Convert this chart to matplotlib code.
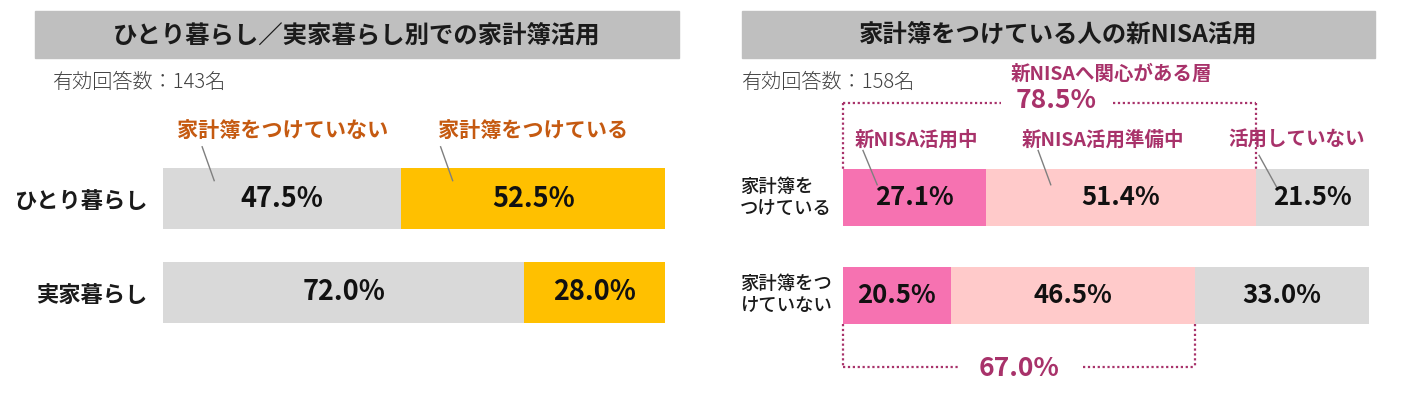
import numpy as np
import matplotlib
matplotlib.use("Agg")
from matplotlib import pyplot as plt
from matplotlib.patches import Rectangle

plt.rcParams['font.family'] = ['Noto Sans CJK JP', 'DejaVu Sans']

# ---- data ----
left_title = 'ひとり暮らし／実家暮らし別での家計簿活用'
left_n = '有効回答数：143名'
left_rows = ['ひとり暮らし', '実家暮らし']
left_series = ['家計簿をつけていない', '家計簿をつけている']
no_kakeibo = [47.5, 72.0]
yes_kakeibo = [52.5, 28.0]

right_title = '家計簿をつけている人の新NISA活用'
right_n = '有効回答数：158名'
right_rows = ['家計簿を\nつけている', '家計簿をつ\nけていない']
right_series = ['新NISA活用中', '新NISA活用準備中', '活用していない']
nisa_using = [27.1, 20.5]
nisa_preparing = [51.4, 46.5]
nisa_not = [21.5, 33.0]
interest_title = '新NISAへ関心がある層'

W, H = 1413, 397
fig = plt.figure(figsize=(W / 100, H / 100), dpi=100)

ORANGE_TXT = '#c55a11'
MAGENTA = '#a8326a'
GRAY = '#d9d9d9'
YELLOW = '#ffc000'
PINK = '#f672b1'
LPINK = '#ffcaca'
LEADER = '#7f7f7f'


def fx(x):
    return x / W


def fy(y):
    return 1 - y / H


# title boxes
for x0, x1, txt in [(35, 679, left_title), (742, 1375, right_title)]:
    fig.patches.append(Rectangle((fx(x0), fy(58)), fx(x1 - x0), 47 / H,
                                 transform=fig.transFigure, color='#bfbfbf', zorder=0))
    fig.text(fx((x0 + x1) / 2), fy(35), txt, ha='center', va='center',
             fontsize=17.6, fontweight='bold', color='#1a1a1a')

fig.text(fx(52), fy(82), left_n, ha='left', va='center', fontsize=14.5,
         fontweight='light', color='#404040')
fig.text(fx(741), fy(82), right_n, ha='left', va='center', fontsize=14.5,
         fontweight='light', color='#404040')

# ---- left chart ----
axL = fig.add_axes([fx(163), fy(339.5), 502 / W, 188 / H])
yL = np.arange(len(left_rows))
lefts = np.zeros(len(left_rows))
left_segments = []
for vals, col in [(no_kakeibo, GRAY), (yes_kakeibo, YELLOW)]:
    axL.barh(yL, vals, left=lefts, height=0.65, color=col, edgecolor='none')
    for i, v in enumerate(vals):
        axL.text(lefts[i] + v / 2, yL[i] + 0.0, f'{v:.1f}%', ha='center', va='center',
                 fontsize=19.5, fontweight='bold', color='#111111')
    left_segments.append(lefts.copy())
    lefts = lefts + np.array(vals)
axL.set_xlim(0, 100)
axL.set_ylim(1.5, -0.5)
axL.set_yticks(yL)
axL.set_yticklabels(left_rows, fontsize=16, fontweight='bold', color='#1a1a1a')
axL.tick_params(axis='y', length=0, pad=11.5)
axL.set_xticks([])
for s in axL.spines.values():
    s.set_visible(False)
axL.patch.set_alpha(0)

# series labels above first row with leader lines
for k, (name, vals) in enumerate(zip(left_series, [no_kakeibo, yes_kakeibo])):
    start = left_segments[k][0]
    axL.text(start + vals[0] / 2, -0.72, name, ha='center', va='center', fontsize=15.2,
             fontweight='bold', color=ORANGE_TXT, clip_on=False)
    axL.plot([start + 7.8, start + 10.2], [-0.55, -0.19], color=LEADER, lw=1, clip_on=False)

# ---- right chart ----
axR = fig.add_axes([fx(843), fy(344.5), 526 / W, 196 / H])
yR = np.arange(len(right_rows))
lefts = np.zeros(len(right_rows))
right_segments = []
for vals, col in [(nisa_using, PINK), (nisa_preparing, LPINK), (nisa_not, GRAY)]:
    axR.barh(yR, vals, left=lefts, height=0.58, color=col, edgecolor='none')
    for i, v in enumerate(vals):
        axR.text(lefts[i] + v / 2, yR[i] + 0.0, f'{v:.1f}%', ha='center', va='center',
                 fontsize=18.5, fontweight='bold', color='#111111')
    right_segments.append(lefts.copy())
    lefts = lefts + np.array(vals)
axR.set_xlim(0, 100)
axR.set_ylim(1.5, -0.5)
axR.set_yticks([])
axR.set_xticks([])
for s in axR.spines.values():
    s.set_visible(False)
axR.patch.set_alpha(0)
for i, lab in enumerate(right_rows):
    fig.text(fx(740), fy(198 if i == 0 else 295), lab, ha='left', va='center',
             fontsize=13.2, fontweight='medium', color='#1a1a1a', linespacing=1.25)

# series labels
label_x = [13.9, 49.4, 86.3]
leader_off = [(3.8, 6.5), (10.0, 12.4), (0.6, 4.0)]
leader_y = [(-0.48, -0.13), (-0.48, -0.13), (-0.43, -0.10)]
for k, name in enumerate(right_series):
    start = right_segments[k][0]
    axR.text(label_x[k], -0.59, name, ha='center', va='center', fontsize=14,
             fontweight='bold', color=MAGENTA, clip_on=False)
    axR.plot([start + leader_off[k][0], start + leader_off[k][1]], leader_y[k],
             color=LEADER, lw=1, clip_on=False)

# brackets for interest group (using + preparing)
interest = [a + b for a, b in zip(nisa_using, nisa_preparing)]
dot = dict(color=MAGENTA, lw=1.6, ls=(0, (1, 1.2)), clip_on=False)

top_total = interest[0]
yb = -0.964
axR.plot([0, 0], [yb, -0.29], **dot)
axR.plot([top_total, top_total], [yb, -0.29], **dot)
axR.plot([0, 30.0], [yb, yb], **dot)
axR.plot([51.3, top_total], [yb, yb], **dot)
axR.text(top_total / 2 + 1.2, -0.99, f'{top_total:.1f}%', ha='center', va='center',
         fontsize=19, fontweight='bold', color=MAGENTA, clip_on=False)
axR.text(51.0, -1.26, interest_title, ha='center', va='center', fontsize=14,
         fontweight='bold', color=MAGENTA, clip_on=False)

bot_total = interest[1]
yb2 = 1.73
axR.plot([0, 0], [1.29, yb2], **dot)
axR.plot([bot_total, bot_total], [1.29, yb2], **dot)
axR.plot([0, 22.2], [yb2, yb2], **dot)
axR.plot([45.6, bot_total], [yb2, yb2], **dot)
axR.text(bot_total / 2, 1.75, f'{bot_total:.1f}%', ha='center', va='center',
         fontsize=19, fontweight='bold', color=MAGENTA, clip_on=False)

fig.savefig('out.png', dpi=100)
